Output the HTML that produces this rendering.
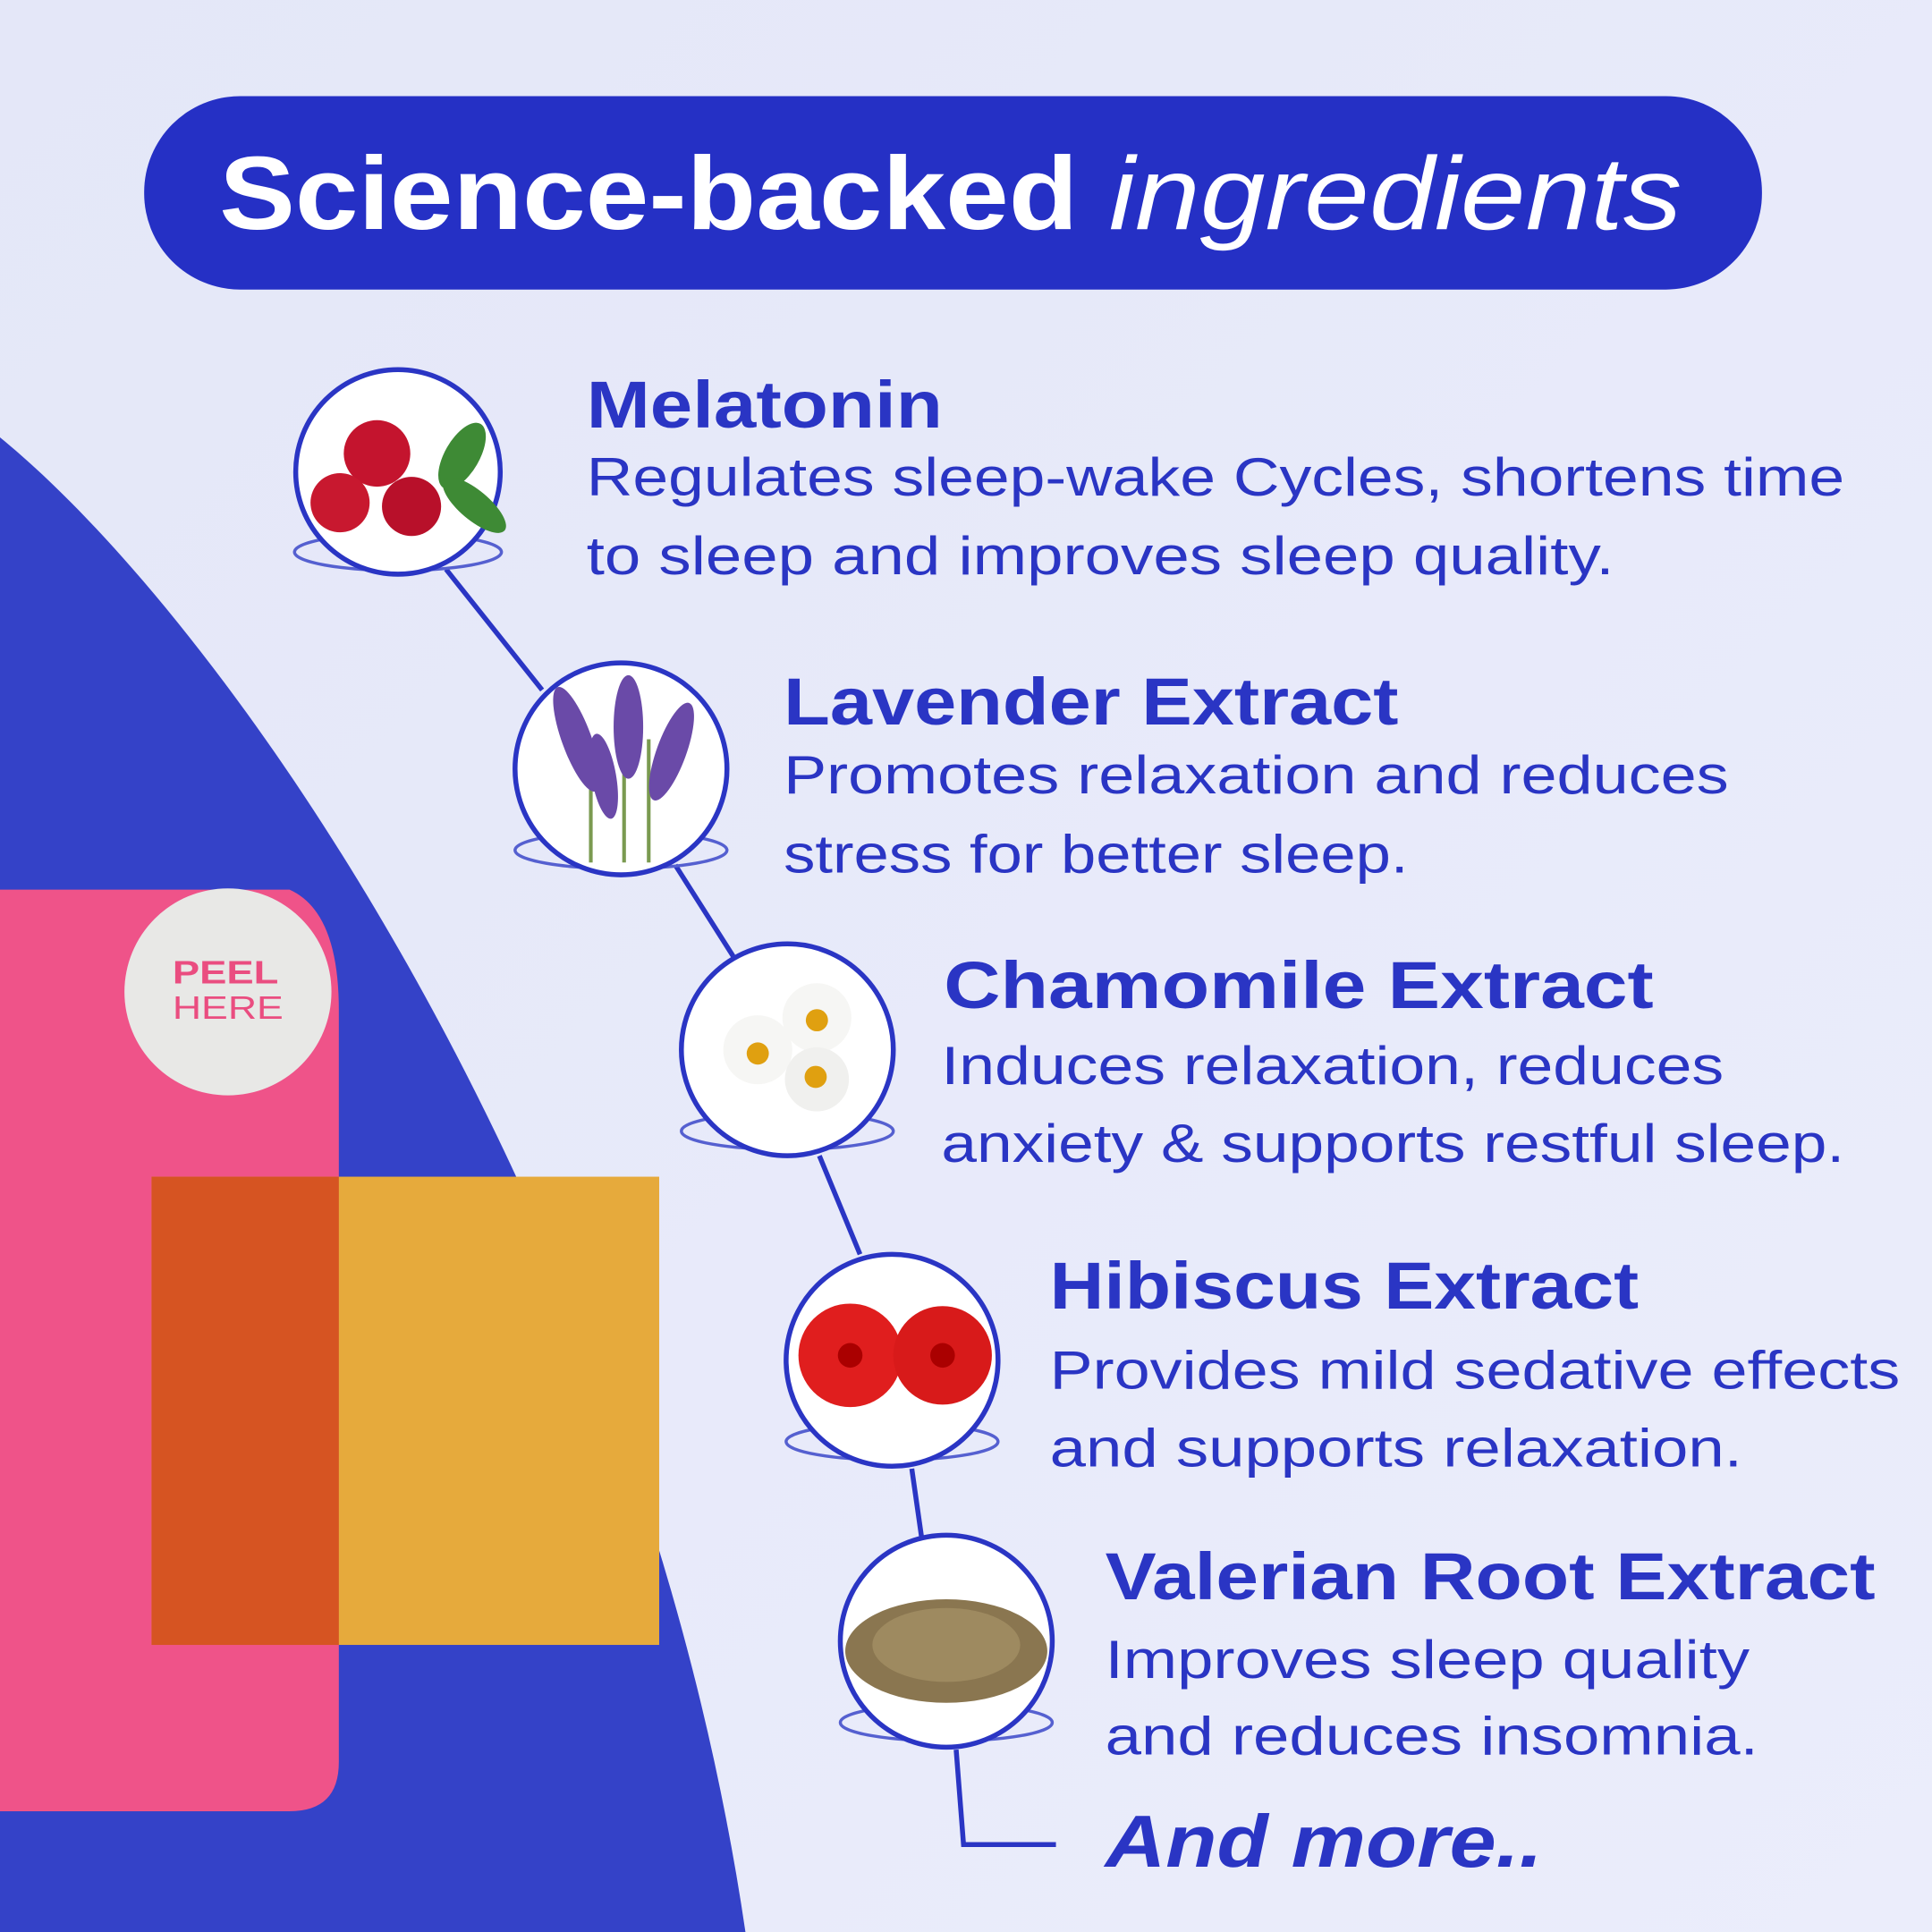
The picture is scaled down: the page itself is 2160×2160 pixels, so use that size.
<!DOCTYPE html>
<html><head><meta charset="utf-8"><style>
html,body{margin:0;padding:0;background:#e6e9f9;}
svg{display:block}
text{font-family:"Liberation Sans",sans-serif;}
</style></head><body>
<svg width="2160" height="2160" viewBox="0 0 1568 1568" xmlns="http://www.w3.org/2000/svg">
<defs>
<linearGradient id="bg" x1="0" y1="0" x2="1" y2="1"><stop offset="0" stop-color="#e4e7f8"/><stop offset="1" stop-color="#ebedfb"/></linearGradient>
</defs>
<rect width="1568" height="1568" fill="url(#bg)"/>
<path d="M0 355 C 190 510, 520 990, 605 1568 L0 1568 Z" fill="#3442c8"/>
<!-- product -->
<path d="M0 722 L235 722 Q275 740 275 820 L275 1430 Q275 1470 235 1470 L0 1470 Z" fill="#ef5389"/>
<circle cx="185" cy="805" r="84" fill="#e8e8e6"/>
<text x="140" y="798" font-size="26" font-weight="bold" fill="#ea4d80" textLength="86" lengthAdjust="spacingAndGlyphs">PEEL</text>
<text x="140" y="827" font-size="26" fill="#ea4d80" textLength="90" lengthAdjust="spacingAndGlyphs">HERE</text>
<rect x="123" y="955" width="412" height="380" fill="#e6aa3c"/>
<rect x="123" y="955" width="152" height="380" fill="#d65422"/>
<!-- header -->
<rect x="117" y="78" width="1313" height="157" rx="78" fill="#2530c5"/>
<text x="178" y="186" font-size="84" font-weight="bold" fill="#fff" textLength="697" lengthAdjust="spacingAndGlyphs">Science-backed</text>
<text x="900" y="186" font-size="84" font-style="italic" fill="#fff" textLength="465" lengthAdjust="spacingAndGlyphs">ingredients</text>
<!-- connectors -->
<g stroke="#2a35c4" stroke-width="4" fill="none">
<path d="M362 462 L440 560"/><path d="M548 702 L595 776"/><path d="M665 938 L698 1018"/><path d="M740 1192 L748 1248"/><path d="M776 1420 L782 1497 L857 1497"/>
</g>
<!-- circles -->
<g stroke="#2a35c4" stroke-width="4" fill="#fff">
<ellipse cx="323" cy="448" rx="84" ry="15" fill="none" stroke-width="2.5" stroke="#5560d0"/>
<circle cx="323" cy="383" r="83"/>
<ellipse cx="504" cy="690" rx="86" ry="15" fill="none" stroke-width="2.5" stroke="#5560d0"/>
<circle cx="504" cy="624" r="86"/>
<ellipse cx="639" cy="918" rx="86" ry="15" fill="none" stroke-width="2.5" stroke="#5560d0"/>
<circle cx="639" cy="852" r="86"/>
<ellipse cx="724" cy="1170" rx="86" ry="15" fill="none" stroke-width="2.5" stroke="#5560d0"/>
<circle cx="724" cy="1104" r="86"/>
<ellipse cx="768" cy="1398" rx="86" ry="15" fill="none" stroke-width="2.5" stroke="#5560d0"/>
<circle cx="768" cy="1332" r="86"/>
</g>
<!-- icons -->
<g>
<ellipse cx="375" cy="370" rx="14" ry="30" fill="#3e8a35" transform="rotate(30 375 370)"/>
<ellipse cx="385" cy="410" rx="12" ry="32" fill="#3e8a35" transform="rotate(-50 385 410)"/>
<circle cx="306" cy="368" r="27" fill="#c4142e"/><circle cx="276" cy="408" r="24" fill="#c8182f"/><circle cx="334" cy="411" r="24" fill="#b8102a"/>
</g>
<g fill="#6a4aa8">
<rect x="478" y="600" width="3" height="100" fill="#7a9a50"/><rect x="505" y="580" width="3" height="120" fill="#7a9a50"/><rect x="525" y="600" width="3" height="100" fill="#7a9a50"/>
<ellipse cx="468" cy="600" rx="12" ry="45" transform="rotate(-20 468 600)"/>
<ellipse cx="510" cy="590" rx="12" ry="42"/>
<ellipse cx="545" cy="610" rx="12" ry="42" transform="rotate(20 545 610)"/>
<ellipse cx="490" cy="630" rx="10" ry="35" transform="rotate(-10 490 630)"/>
</g>
<g>
<circle cx="615" cy="852" r="28" fill="#f6f6f4"/><circle cx="663" cy="826" r="28" fill="#f6f6f4"/><circle cx="663" cy="876" r="26" fill="#f0f0ee"/>
<circle cx="615" cy="855" r="9" fill="#e0a010"/><circle cx="663" cy="828" r="9" fill="#e0a010"/><circle cx="662" cy="874" r="9" fill="#e0a010"/>
</g>
<g>
<circle cx="690" cy="1100" r="42" fill="#e01e1e"/><circle cx="765" cy="1100" r="40" fill="#d81a1a"/>
<circle cx="690" cy="1100" r="10" fill="#a00"/><circle cx="765" cy="1100" r="10" fill="#a00"/>
</g>
<ellipse cx="768" cy="1340" rx="82" ry="42" fill="#8a7650"/>
<ellipse cx="768" cy="1335" rx="60" ry="30" fill="#9e8a60"/>
<!-- texts -->
<g fill="#2a35c4">
<text x="476" y="347" font-size="54" font-weight="bold" textLength="289" lengthAdjust="spacingAndGlyphs">Melatonin</text>
<text x="476" y="402" font-size="44" textLength="1021" lengthAdjust="spacingAndGlyphs">Regulates sleep-wake Cycles, shortens time</text>
<text x="476" y="466" font-size="44" textLength="834" lengthAdjust="spacingAndGlyphs">to sleep and improves sleep quality.</text>
<text x="636" y="588" font-size="54" font-weight="bold" textLength="499" lengthAdjust="spacingAndGlyphs">Lavender Extract</text>
<text x="636" y="644" font-size="44" textLength="767" lengthAdjust="spacingAndGlyphs">Promotes relaxation and reduces</text>
<text x="636" y="708" font-size="44" textLength="507" lengthAdjust="spacingAndGlyphs">stress for better sleep.</text>
<text x="766" y="818" font-size="54" font-weight="bold" textLength="576" lengthAdjust="spacingAndGlyphs">Chamomile Extract</text>
<text x="764" y="880" font-size="44" textLength="635" lengthAdjust="spacingAndGlyphs">Induces relaxation, reduces</text>
<text x="764" y="943" font-size="44" textLength="733" lengthAdjust="spacingAndGlyphs">anxiety &amp; supports restful sleep.</text>
<text x="852" y="1062" font-size="54" font-weight="bold" textLength="478" lengthAdjust="spacingAndGlyphs">Hibiscus Extract</text>
<text x="852" y="1127" font-size="44" textLength="690" lengthAdjust="spacingAndGlyphs">Provides mild sedative effects</text>
<text x="852" y="1190" font-size="44" textLength="562" lengthAdjust="spacingAndGlyphs">and supports relaxation.</text>
<text x="897" y="1298" font-size="54" font-weight="bold" textLength="625" lengthAdjust="spacingAndGlyphs">Valerian Root Extract</text>
<text x="897" y="1362" font-size="44" textLength="523" lengthAdjust="spacingAndGlyphs">Improves sleep quality</text>
<text x="897" y="1424" font-size="44" textLength="530" lengthAdjust="spacingAndGlyphs">and reduces insomnia.</text>
<text x="897" y="1515" font-size="60" font-weight="bold" font-style="italic" textLength="355" lengthAdjust="spacingAndGlyphs">And more..</text>
</g>
</svg>
</body></html>
